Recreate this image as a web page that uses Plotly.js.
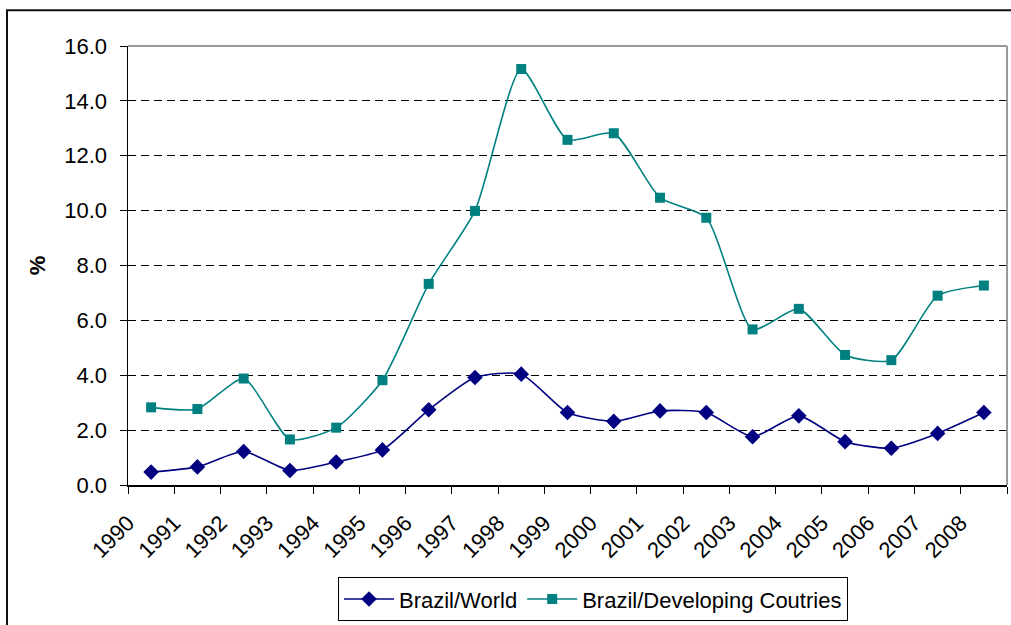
<!DOCTYPE html>
<html>
<head>
<meta charset="utf-8">
<script src="https://cdn.plot.ly/plotly-3.0.1.min.js"></script>
<style>
html,body{margin:0;padding:0;background:#fff;}
#chart{width:1011px;height:625px;}
</style>
</head>
<body>
<div id="chart"></div>
<script>
const years = [1990,1991,1992,1993,1994,1995,1996,1997,1998,1999,2000,2001,2002,2003,2004,2005,2006,2007,2008];
const brazilWorld = [0.47,0.66,1.22,0.53,0.84,1.28,2.74,3.92,4.04,2.64,2.32,2.70,2.64,1.76,2.52,1.58,1.34,1.88,2.64];
const brazilDeveloping = [2.83,2.77,3.88,1.66,2.09,3.82,7.33,9.99,15.16,12.58,12.82,10.47,9.74,5.67,6.42,4.74,4.55,6.90,7.27];
const tickLabels = years.map(String);

// categories are centred between year boundary ticks
const xPos = years.map((y, i) => i + 0.5);
const tickVals = years.map((y, i) => i).concat([years.length]);
const tickText = tickLabels.concat(['']);

const font = {family: '"Liberation Sans", Arial, sans-serif', size: 21, color: '#000'};
const legFont = {family: '"Liberation Sans", Arial, sans-serif', size: 22, color: '#000'};

const traces = [
  {
    x: xPos, y: brazilWorld, name: 'Brazil/World', type: 'scatter', mode: 'lines+markers',
    line: {color: '#000080', width: 1.6, shape: 'spline', smoothing: 0.6},
    marker: {symbol: 'diamond', size: 12, color: '#000080'}
  },
  {
    x: xPos, y: brazilDeveloping, name: 'Brazil/Developing Coutries', type: 'scatter', mode: 'lines+markers',
    line: {color: '#008080', width: 1.6, shape: 'spline', smoothing: 0.6},
    marker: {symbol: 'square', size: 10, color: '#008080'}
  }
];

const L = 128, R = 1007, T = 46, B = 489, W = 1011, H = 625;
const px = v => (v - L) / (R - L);
const py = v => (B - v) / (B - T);

const layout = {
  width: W, height: H,
  margin: {l: L, r: W - R, t: T, b: H - B, pad: 0},
  paper_bgcolor: '#fff', plot_bgcolor: '#fff',
  font: font,
  showlegend: true,
  legend: {
    orientation: 'h', x: px(593), xanchor: 'center', y: py(582), yanchor: 'top',
    bordercolor: '#000', borderwidth: 1, bgcolor: '#fff', font: legFont,
    itemwidth: 50, itemclick: false
  },
  xaxis: {
    range: [0, years.length], tickmode: 'array', tickvals: tickVals, ticktext: tickText,
    tickangle: -45, ticks: 'outside', ticklen: 7, tickcolor: '#000', tickwidth: 1,
    showline: true, linecolor: '#000', linewidth: 1.5, showgrid: false, zeroline: false,
    tickfont: {family: font.family, size: 22, color: '#000'}, ticklabelstandoff: 8, fixedrange: true
  },
  yaxis: {
    range: [0, 16], dtick: 2, tick0: 0, tickformat: '.1f',
    ticks: 'outside', ticklen: 7, tickcolor: '#000', tickwidth: 1,
    showline: true, linecolor: '#000', linewidth: 1.5,
    showgrid: true, gridcolor: '#000', gridwidth: 1, griddash: '8px,5px',
    zeroline: false, tickfont: {family: font.family, size: 22, color: '#000'}, ticklabelstandoff: 8,
    title: {text: '<b>%</b>', font: {family: font.family, size: 22, color: '#000'}, standoff: 12},
    fixedrange: true
  },
  shapes: [
    {type: 'line', xref: 'paper', yref: 'paper', x0: 0, x1: 1, y0: 1, y1: 1, line: {color: '#999', width: 2}},
    {type: 'line', xref: 'paper', yref: 'paper', x0: 1, x1: 1, y0: 0, y1: 1, line: {color: '#999', width: 2}},
    {type: 'rect', xref: 'paper', yref: 'paper', x0: px(7), x1: px(1020), y0: py(10), y1: py(640), line: {color: '#111', width: 2}, fillcolor: 'rgba(0,0,0,0)'}
  ]
};

Plotly.newPlot('chart', traces, layout, {displayModeBar: false, staticPlot: true});
</script>
</body>
</html>
